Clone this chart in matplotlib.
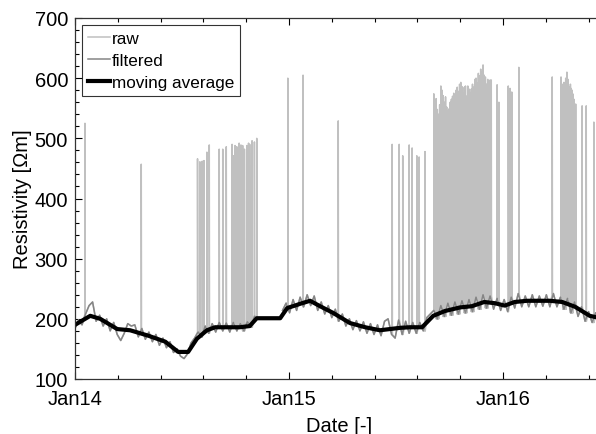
import numpy as np
import matplotlib
matplotlib.use("Agg")
from matplotlib import pyplot as plt
import matplotlib.dates as mdates
from matplotlib.ticker import FixedLocator, MultipleLocator

plt.rcParams['font.family'] = ['Liberation Sans', 'DejaVu Sans']

# day offsets are counted from 1 Jan 2014
START = "2014-01-01"

# filtered series, sampled every 6 days (nan = no data)
filt_days = np.arange(0, 901, 6)
filt_vals = np.array([
    184, 198, 190, 208, 222, 228, 196, 206, 188, 200,
    180, 194, 174, 164, 176, 192, 188, 190, 170, 184,
    166, 178, 162, 174, 156, 168, 152, 162, 144, 150,
    138, 134, 142, 160, 168, 178, 170, 188, 176, 192,
    178, 194, 180, 193, 178, 194, 180, 192, 180, 195,
    186, 204,
    np.nan, np.nan, np.nan, np.nan, np.nan, np.nan, np.nan,
    214, 226, 210, 232, 214, 236, 220, 240, 222, 238,
    214, 228, 208, 222, 202, 216, 196, 208, 188, 200,
    182, 197, 180, 195, 176, 192, 174, 190, 172, 196,
    200, 174, 168, 198, 174, 196, 176, 194, 176, 194,
    180, 202, 208, 214, 200, 222, 204, 226, 206, 228,
    208, 230, 210, 232, 212, 236, 216, 240, 218, 238,
    216, 234, 214, 232, 212, 236, 218, 242, 220, 238,
    220, 240, 220, 238, 221, 240, 220, 242, 220, 236,
    216, 234, 210, 228, 204, 220, 196, 212, 194, 210,
    192, 208,
], dtype=float)

# moving average
avg_days = [0, 26, 43, 72, 94, 125, 154, 176, 193, 208, 225, 239, 281, 298,
            310, 350, 362, 375, 384, 401, 418, 440, 469, 495, 520, 554, 571,
            592, 611, 631, 657, 677, 698, 716, 733, 750, 771, 810, 831, 853,
            878, 901]
avg_vals = [190, 205, 200, 183, 181, 172, 162, 145, 145, 167, 181, 186, 186,
            188, 201, 201, 218, 222, 225, 230, 221, 210, 193, 186, 181, 185,
            186, 186, 205, 213, 219, 221, 228, 226, 222, 228, 230, 230, 228,
            220, 205, 200]

# isolated spikes in the raw record (day, peak value)
spike_days = [17, 113, 209, 213, 217, 220, 225, 229, 246, 252, 258,
              268, 270, 273, 276, 280, 283, 286, 289, 293, 296, 298, 302,
              306, 310, 363, 389, 449, 541, 553, 559, 570, 575, 583, 587,
              597, 720, 723, 739, 742, 745, 757, 814, 829, 831, 832, 834,
              837, 839, 841, 843, 845, 846, 848, 849, 851, 854, 865, 872,
              885]
spike_vals = [525, 457, 466, 461, 462, 463, 477, 489, 482, 482, 486,
              490, 471, 488, 486, 492, 489, 488, 482, 488, 492, 490, 496,
              494, 500, 600, 605, 529, 490, 490, 471, 489, 484, 471, 469,
              478, 589, 560, 587, 583, 577, 618, 602, 602, 577, 590, 593,
              600, 610, 598, 585, 590, 583, 580, 574, 565, 557, 554, 554,
              527]

# dense burst of raw outliers in autumn 2015, one peak every 2 days
burst_days = np.arange(612, 711, 2)
burst_vals = [574, 560, 566, 548, 540, 556, 587, 580, 571, 560,
              569, 552, 545, 549, 560, 565, 570, 575, 572, 580,
              585, 578, 590, 593, 586, 575, 585, 587, 570, 587,
              582, 576, 582, 590, 585, 598, 600, 592, 608, 604,
              615, 610, 622, 605, 602, 590, 598, 585, 597, 597]

t0 = mdates.datestr2num(START)

# raw = filtered record plus the outlier spikes
ok = ~np.isnan(filt_vals)
pk_days = np.concatenate([spike_days, burst_days]).astype(float)
pk_vals = np.concatenate([spike_vals, burst_vals]).astype(float)
pts = [(d, v) for d, v in zip(filt_days, filt_vals)]
for d, v in zip(pk_days, pk_vals):
    i = np.argmin(np.abs(filt_days[ok] - d))
    foot = filt_vals[ok][i]
    pts += [(d - 0.01, foot), (d, v), (d + 0.4, foot)]
pts.sort(key=lambda p: p[0])
raw_x = t0 + np.array([p[0] for p in pts])
raw_y = np.array([p[1] for p in pts])

fig = plt.figure(figsize=(5.96, 4.35), dpi=100)
ax = fig.add_axes([75 / 596, 55 / 435, 528 / 596, 361 / 435])

ax.plot(raw_x, raw_y, color='#c0c0c0', lw=1.1, label='raw')
ax.plot(t0 + filt_days, filt_vals, color='#858585', lw=1.1, label='filtered')
ax.plot(t0 + np.array(avg_days), avg_vals, color='black', lw=3,
        label='moving average')

ax.set_xlim(t0, t0 + 900.6)
ax.set_ylim(100, 700)

years = [mdates.datestr2num(f"{y}-01-01") for y in (2014, 2015, 2016, 2017)]
ax.xaxis.set_major_locator(FixedLocator(years[:3]))
ax.set_xticklabels(['Jan14', 'Jan15', 'Jan16'])
minor = []
for a, b in zip(years[:-1], years[1:]):
    minor += [a + k * (b - a) / 5 for k in range(1, 5)]
ax.xaxis.set_minor_locator(FixedLocator(minor))
ax.yaxis.set_major_locator(MultipleLocator(100))
ax.yaxis.set_minor_locator(MultipleLocator(20))

ax.tick_params(which='both', direction='in', top=True, right=True,
               labelsize=14.5, width=0.8)
ax.tick_params(axis='x', pad=7)
ax.tick_params(axis='y', pad=5)
ax.tick_params(which='major', length=5)
ax.tick_params(which='minor', length=3)
for s in ax.spines.values():
    s.set_linewidth(0.9)
    s.set_color('#333333')

ax.set_xlabel('Date [-]', fontsize=14.5, labelpad=6)
ax.set_ylabel('Resistivity [Ωm]', fontsize=14.5, labelpad=2)

leg = ax.legend(loc='upper left', fontsize=12.3, frameon=True, fancybox=False,
                handlelength=1.3, handletextpad=0.1, labelspacing=0.42,
                borderpad=0.35, borderaxespad=0.4)
leg.get_frame().set_edgecolor('black')
leg.get_frame().set_linewidth(0.8)

fig.savefig('out.png', dpi=100)
